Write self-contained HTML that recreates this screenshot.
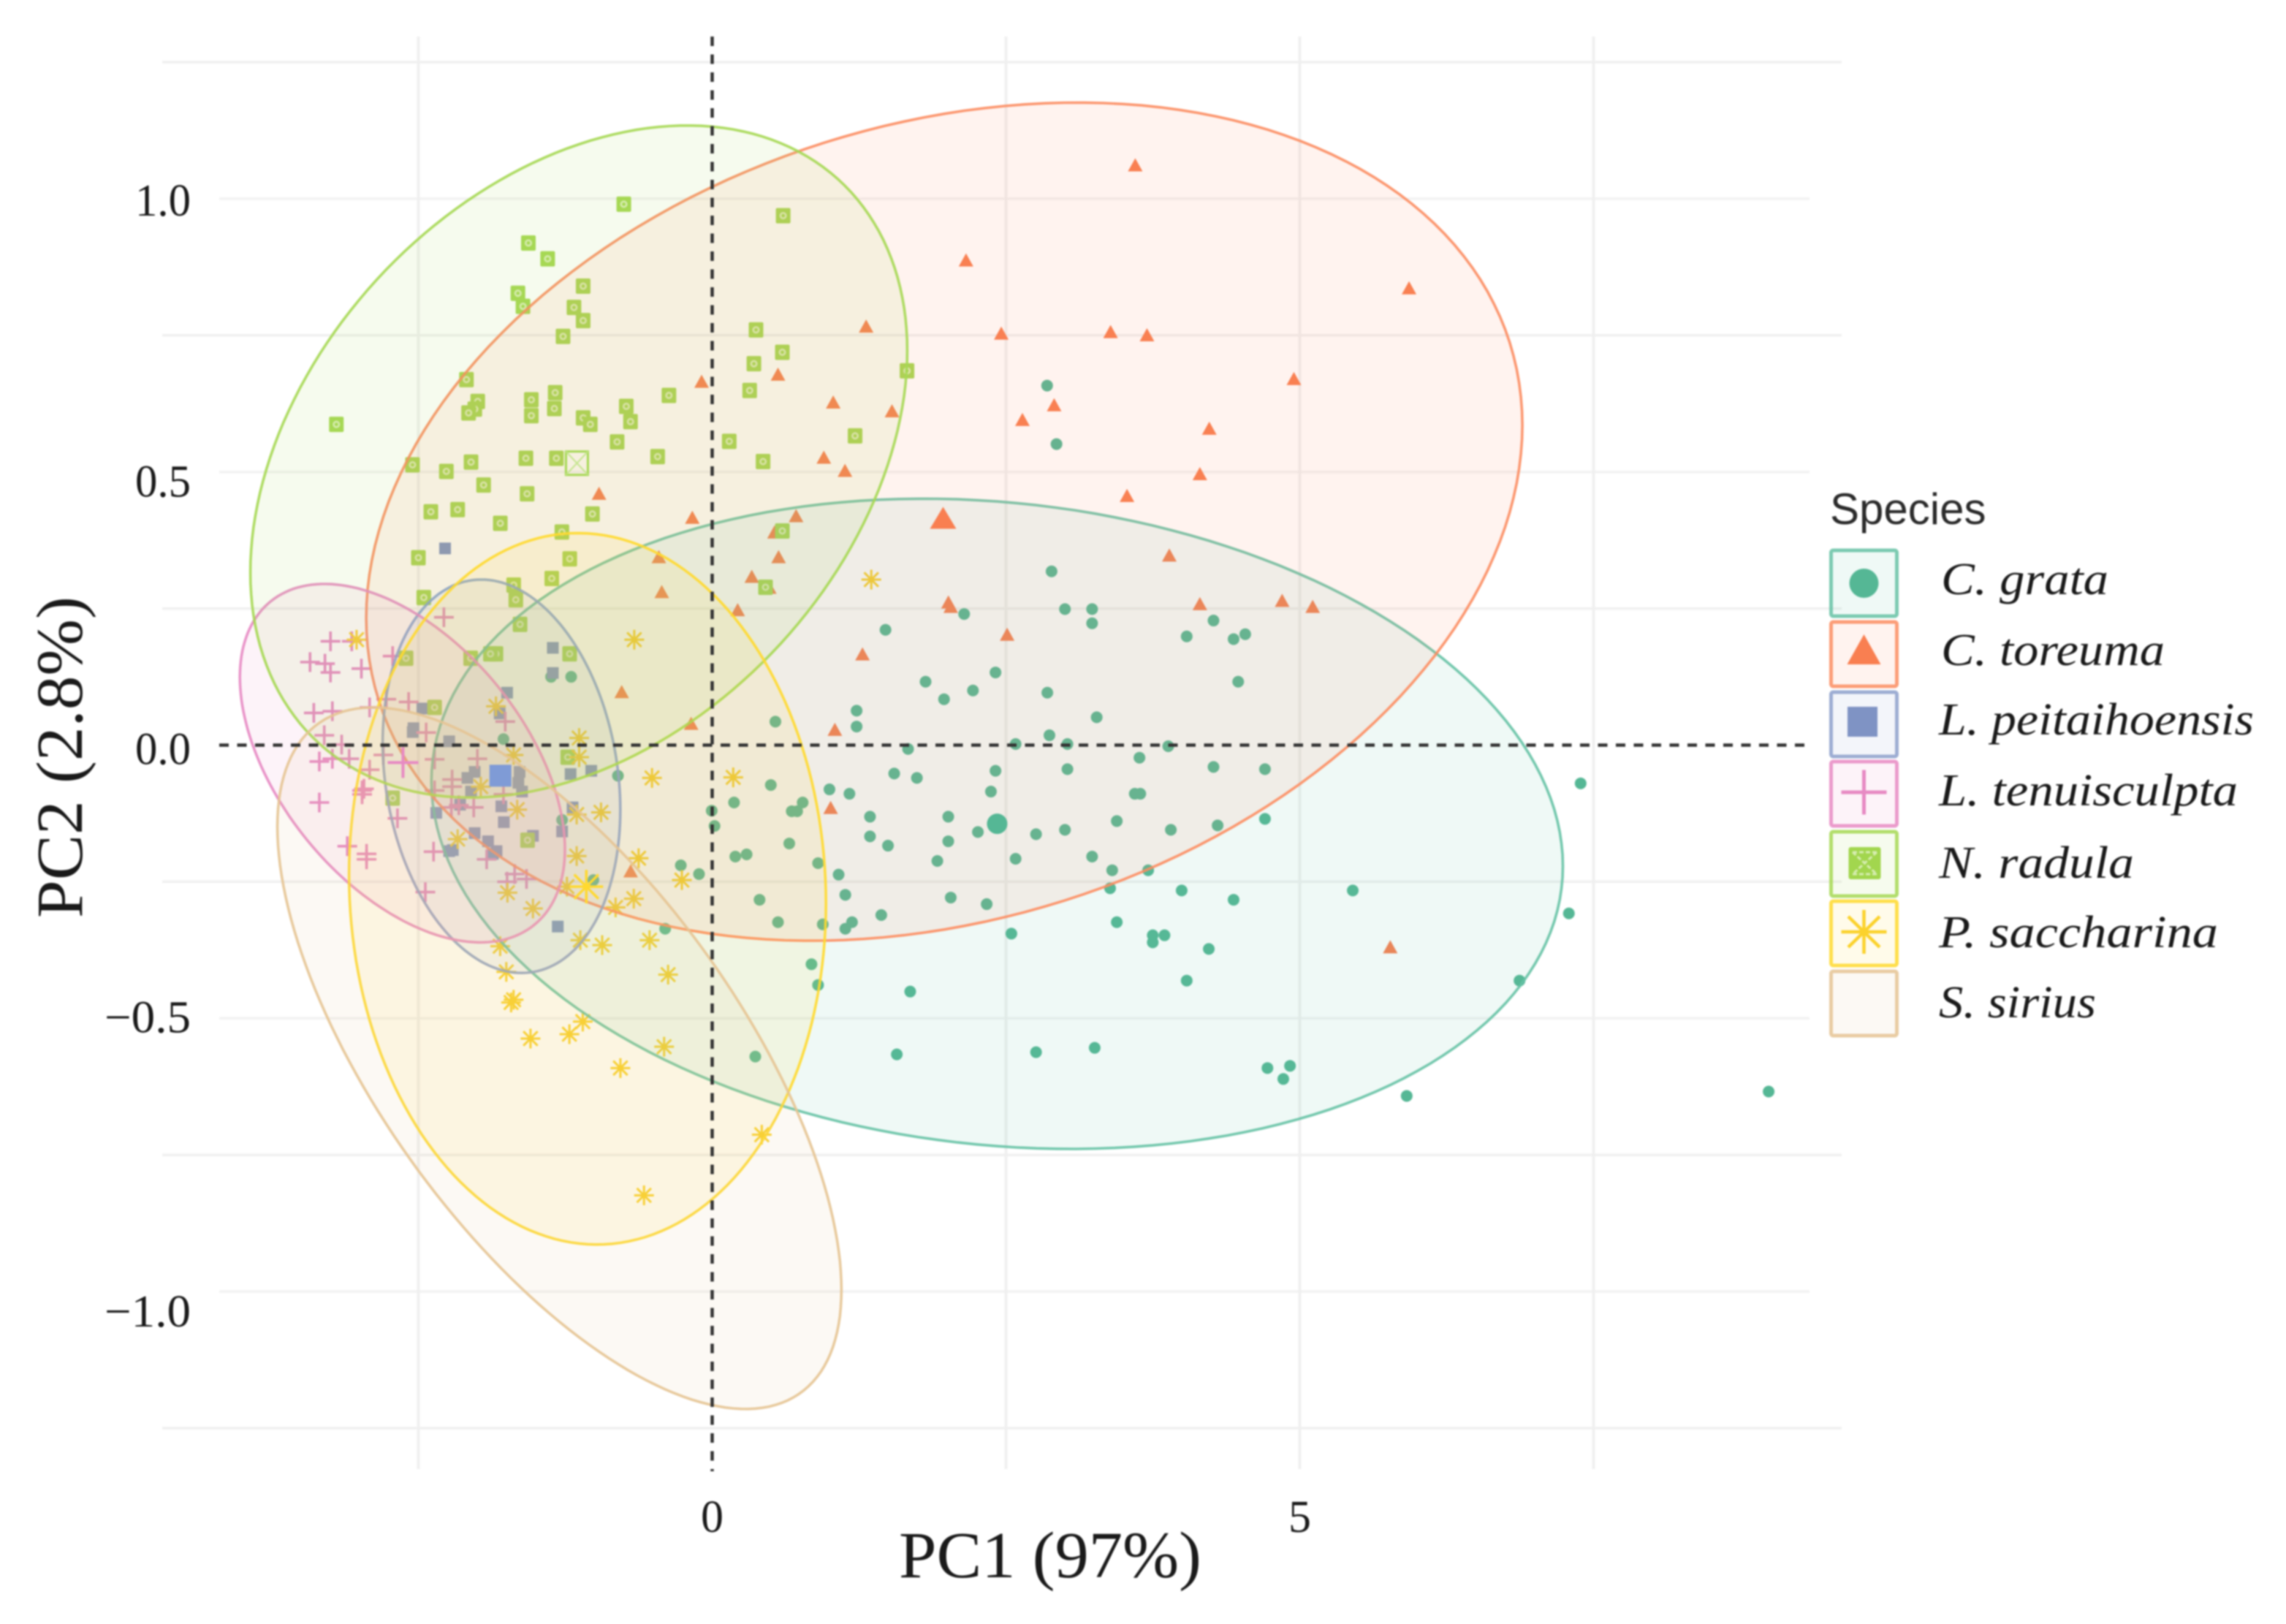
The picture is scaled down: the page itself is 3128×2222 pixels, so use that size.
<!DOCTYPE html>
<html>
<head>
<meta charset="utf-8">
<title>PCA biplot by species</title>
<style>
html,body{margin:0;padding:0;background:#fff;}
svg{display:block;filter:blur(1px);}
text{font-family:"Liberation Serif",serif;fill:#1a1a1a;}
</style>
</head>
<body>
<svg id="chart" xmlns="http://www.w3.org/2000/svg" width="3128" height="2222" viewBox="0 0 3128 2222">
  <rect x="0" y="0" width="3128" height="2222" fill="#ffffff"/>
  <g id="grid"></g>
  <g id="points"></g>
  <g id="ellipses"></g>
  <g id="centroids"></g>
  <g id="refs"></g>
  <g id="ticks"></g>
  <text x="1437" y="2158" font-size="90" text-anchor="middle" textLength="414" lengthAdjust="spacingAndGlyphs">PC1 (97%)</text>
  <text transform="translate(112,1036) rotate(-90)" font-size="90" text-anchor="middle" textLength="440" lengthAdjust="spacingAndGlyphs">PC2 (2.8%)</text>

  <g>
    <text x="2504" y="717" font-size="60" style="font-family:'Liberation Sans',sans-serif;fill:#2b2b2b">Species</text>

    <g>
      <rect x="2505.5" y="753" width="90" height="90" rx="3" fill="#66C2A5" fill-opacity="0.1" stroke="#66C2A5" stroke-opacity="0.85" stroke-width="5"/>
      <circle cx="2550.5" cy="798" r="20" fill="#55B795"/>
      <text x="2656" y="813" font-size="62" font-style="italic" textLength="229" lengthAdjust="spacingAndGlyphs">C. grata</text>
    </g>
    <g>
      <rect x="2505.5" y="851" width="90" height="88" rx="3" fill="#FC8D62" fill-opacity="0.1" stroke="#FC8D62" stroke-opacity="0.85" stroke-width="5"/>
      <path d="M2527.5 909 L2573.5 909 L2550.5 868 Z" fill="#F97F51"/>
      <text x="2656" y="910" font-size="62" font-style="italic" textLength="306" lengthAdjust="spacingAndGlyphs">C. toreuma</text>
    </g>
    <g>
      <rect x="2505.5" y="947" width="90" height="88" rx="3" fill="#8DA0CB" fill-opacity="0.1" stroke="#8DA0CB" stroke-opacity="0.85" stroke-width="5"/>
      <rect x="2528" y="967" width="41" height="41" fill="#7F93C4"/>
      <text x="2653" y="1005" font-size="62" font-style="italic" textLength="431" lengthAdjust="spacingAndGlyphs">L. peitaihoensis</text>
    </g>
    <g>
      <rect x="2505.5" y="1042" width="90" height="88" rx="3" fill="#E78AC3" fill-opacity="0.1" stroke="#E78AC3" stroke-opacity="0.85" stroke-width="5"/>
      <path d="M2519.5 1084 H2581.5 M2550.5 1053.5 V1114.5" stroke="#E78AC3" stroke-width="5" fill="none"/>
      <text x="2653" y="1102" font-size="62" font-style="italic" textLength="409" lengthAdjust="spacingAndGlyphs">L. tenuisculpta</text>
    </g>
    <g>
      <rect x="2505.5" y="1138" width="90" height="88" rx="3" fill="#A6D854" fill-opacity="0.1" stroke="#A6D854" stroke-opacity="0.85" stroke-width="5"/>
      <rect x="2529.5" y="1159" width="44" height="44" rx="3" fill="#A2D64E"/>
      <path d="M2535 1166 L2568 1196 M2568 1166 L2535 1196 M2535 1166 H2568 M2535 1196 H2568" stroke="#D6EDB0" stroke-width="3" stroke-dasharray="6 3" fill="none"/>
      <text x="2653" y="1201" font-size="62" font-style="italic" textLength="267" lengthAdjust="spacingAndGlyphs">N. radula</text>
    </g>
    <g>
      <rect x="2505.5" y="1233" width="90" height="88" rx="3" fill="#FFD92F" fill-opacity="0.1" stroke="#FFD92F" stroke-opacity="0.85" stroke-width="5"/>
      <path d="M2519.5 1275 H2581.5 M2550.5 1245 V1305 M2529 1254 L2572 1296 M2572 1254 L2529 1296" stroke="#FBD22C" stroke-width="4.5" fill="none"/>
      <text x="2653" y="1296" font-size="62" font-style="italic" textLength="382" lengthAdjust="spacingAndGlyphs">P. saccharina</text>
    </g>
    <g>
      <rect x="2505.5" y="1329" width="90" height="88" rx="3" fill="#E5C494" fill-opacity="0.1" stroke="#E5C494" stroke-opacity="0.85" stroke-width="5"/>
      <text x="2653" y="1392" font-size="62" font-style="italic" textLength="215" lengthAdjust="spacingAndGlyphs">S. sirius</text>
    </g>
  </g>
</svg>

<script>
// ---- axis data ----
const xTicks = [0, 5];
const xGridMinor = [-2.5, 2.5, 5, 7.5];
const yTicks = ['1.0', '0.5', '0.0', '\u22120.5', '\u22121.0'];
const yTickValues = [1, 0.5, 0, -0.5, -1];
const yGridOuter = [1.25, 0.75, 0.25, -0.25, -0.75, -1.25];
const yGridInner = [1, 0.5, -0.5, -1];

// ---- ellipse data (PC1/PC2 units) ----
const speciesKeys = ['c-grata', 'c-toreuma', 'l-peitaihoensis', 'l-tenuisculpta', 'n-radula', 'p-saccharina', 's-sirius'];
const ellipseCentrePC1 = [2.425, 1.975, -1.793, -2.636, -1.135, -1.061, -1.300];
const ellipseCentrePC2 = [-0.144, 0.409, -0.057, -0.033, 0.519, -0.263, -0.573];
const ellipseSpreadPC1 = [4.814, 4.919, 1.011, 1.383, 2.795, 2.029, 2.400];
const ellipseSpreadPC2 = [0.595, 0.767, 0.360, 0.328, 0.615, 0.651, 0.642];
const ellipseCorr = [-0.13, 0.23, -0.17, -0.48, 0.33, -0.04, -0.66];

// ---- point data: [PC1, PC2] ----
const grata = [[2.888,.318],[3.002,.249],[3.233,.249],[3.233,.223],[1.475,.211],[2.144,.240],[4.266,.228],[4.038,.199],[4.437,.194],[4.536,.203],[2.411,.133],[1.816,.116],[2.219,.100],[1.973,.084],[2.852,.096],[4.476,.116],[1.229,.063],[1.229,.034],[.538,.043],[3.272,.051],[2.870,.018],[2.582,.002],[3.023,.002],[3.881,-.002],[1.667,-.007],[3.636,-.023],[2.411,-.047],[3.023,-.044],[4.266,-.040],[4.704,-.044],[1.549,-.052],[1.742,-.060],[2.372,-.085],[.998,-.081],[1.168,-.089],[.499,-.073],[3.596,-.089],[3.643,-.089],[.186,-.105],[.770,-.105],[.677,-.121],[.723,-.121],[1.343,-.131],[2.009,-.131],[3.443,-.139],[3.002,-.155],[3.903,-.155],[4.301,-.147],[4.704,-.135],[2.261,-.159],[2.756,-.163],[1.343,-.167],[2.009,-.176],[1.496,-.184],[.656,-.180],[1.916,-.212],[2.582,-.208],[3.233,-.204],[.197,-.204],[.293,-.200],[.901,-.216],[1.076,-.237],[3.404,-.229],[3.710,-.229],[3.386,-.262],[3.995,-.266],[4.437,-.283],[5.451,-.266],[.403,-.283],[1.133,-.274],[2.030,-.279],[2.336,-.291],[1.439,-.311],[.560,-.324],[.941,-.328],[1.190,-.324],[1.133,-.336],[3.443,-.324],[2.546,-.345],[3.749,-.348],[3.849,-.348],[3.749,-.361],[4.226,-.373],[.845,-.401],[.901,-.439],[1.685,-.451],[4.038,-.431],[.367,-.570],[1.571,-.566],[2.756,-.562],[3.255,-.554],[4.725,-.591],[4.917,-.587],[4.860,-.611],[7.39,-.070],[7.29,-.308],[6.87,-.431],[5.91,-.642],[8.99,-.634],[2.85,.658],[2.93,.551],[-1.371,.125],[-1.200,.125],[-1.776,.011],[-.802,-.056],[-.004,-.120],[.02,-.148],[-1.277,-.137],[-1.011,-.247],[-.267,-.220],[-.112,-.236],[-.400,-.336]];
const toreuma = [[3.60,1.062],[2.16,.888],[5.93,.837],[2.46,.754],[3.39,.757],[3.70,.751],[1.31,.767],[-.09,.666],[.56,.679],[1.03,.628],[1.53,.612],[2.91,.623],[2.64,.596],[4.95,.671],[4.23,.580],[.95,.527],[1.13,.503],[4.15,.497],[3.53,.457],[-.963,.461],[-.169,.417],[.53,.390],[.714,.420],[.337,.309],[.486,.289],[-.429,.281],[-.454,.345],[.565,.345],[.217,.248],[3.89,.348],[4.15,.259],[4.85,.265],[5.11,.254],[2.01,.262],[2.03,.254],[2.51,.203],[1.279,.167],[-.770,.098],[1.044,.029],[-.179,.040],[1.008,-.114],[-.694,-.230],[5.77,-.369]];
const peitaihoensis = [[-2.548,.024],[-2.238,.007],[-2.021,-.049],[-2.083,-.060],[-2.052,-.085],[-1.639,-.049],[-1.649,-.069],[-1.618,-.085],[-1.205,-.053],[-1.029,-.047],[-1.188,-.114],[-1.794,-.112],[-1.773,-.141],[-2.145,-.109],[-2.348,-.124],[-2.021,-.161],[-1.907,-.176],[-1.835,-.194],[-1.866,-.199],[-2.207,-.192],[-2.238,-.194],[-1.277,-.158],[-1.525,-.166],[-1.314,-.332],[-2.273,.360],[-1.356,.178],[-1.356,.132],[-1.745,.096],[-1.808,.058],[-2.466,.067],[-2.542,.031]];
const tenuisculpta = [[-2.283,.234],[-3.248,.190],[-3.067,.190],[-3.422,.152],[-3.295,.149],[-3.248,.133],[-2.985,.140],[-2.719,.163],[-2.773,.084],[-2.583,.079],[-2.915,.069],[-3.390,.059],[-3.232,.062],[-3.301,.018],[-3.153,.001],[-2.434,.023],[-1.761,.043],[-3.343,-.030],[-3.232,-.025],[-3.089,-.025],[-2.915,-.045],[-2.798,-.018],[-2.362,-.026],[-1.998,-.025],[-2.213,-.063],[-2.213,-.076],[-1.776,-.090],[-2.979,-.083],[-2.979,-.090],[-2.963,-.080],[-3.343,-.105],[-2.362,-.083],[-2.678,-.134],[-2.219,-.114],[-2.029,-.114],[-2.156,-.110],[-3.105,-.185],[-2.941,-.209],[-2.941,-.199],[-2.371,-.195],[-1.919,-.209],[-1.745,-.250],[-1.681,-.236],[-1.580,-.245],[-2.441,-.269]];
const radula = [[-.752,.990],[.604,.969],[-1.564,.919],[-1.400,.890],[-1.098,.840],[-1.653,.827],[-1.610,.803],[-1.176,.801],[-1.098,.777],[-1.269,.748],[.373,.760],[.597,.719],[.355,.698],[.319,.649],[1.658,.685],[-2.091,.669],[-1.995,.629],[-2.020,.615],[-2.073,.608],[-1.539,.632],[-1.539,.603],[-1.336,.645],[-1.343,.616],[-1.098,.599],[-1.037,.587],[-.731,.620],[-.695,.592],[-.368,.640],[-3.198,.587],[.145,.556],[1.216,.566],[-.809,.555],[-2.550,.513],[-2.262,.501],[-2.052,.518],[-1.585,.525],[-1.326,.525],[-.464,.528],[.433,.519],[-1.945,.476],[-1.575,.460],[-2.394,.427],[-2.166,.431],[-1.803,.406],[-1.019,.423],[-1.279,.390],[.597,.392],[-2.500,.343],[-1.212,.341],[-1.365,.305],[-1.689,.293],[-1.671,.266],[-2.454,.270],[.454,.289],[-1.635,.221],[-2.605,.159],[-2.055,.159],[-1.840,.167],[-1.887,.167],[-1.213,.167],[-2.362,.069],[-1.229,-.022],[-2.719,-.097],[-1.571,-.174]];
const saccharina = [[-1.132,.013],[-1.690,-.018],[-1.132,-.022],[-.512,-.060],[-1.969,-.076],[-1.659,-.118],[-1.153,-.127],[-.946,-.123],[-2.166,-.172],[-1.153,-.203],[-.626,-.207],[-1.236,-.259],[-1.742,-.270],[-1.525,-.299],[-.667,-.281],[-.822,-.297],[-1.122,-.357],[-.936,-.366],[-.533,-.357],[-1.804,-.368],[-1.752,-.415],[-1.711,-.471],[-1.690,-.466],[-1.546,-.537],[-1.215,-.529],[-1.101,-.506],[-.781,-.591],[-.663,.193],[-3.026,.193],[-1.840,.071],[.179,-.059],[-.258,-.247],[-.375,-.420],[-.409,-.552],[.422,-.713],[-.580,-.824],[1.354,.303]];

// ---- centroid data: [PC1, PC2] ----
const centroidGrata = [2.425, -0.144];
const centroidToreuma = [1.965, 0.416];
const centroidPeitaihoensis = [-1.802, -0.056];
const centroidTenuisculpta = [-2.631, -0.032];
const centroidRadula = [-1.151, 0.516];
const centroidSaccharina = [-1.071, -0.259];

// ---- axis functions ----
const sx = v => 974.5 + 160.8 * v;
const sy = v => 1019.5 - 747.6 * v;

// ---- style ----
const strokeColours = ['#66C2A5', '#FC8D62', '#8DA0CB', '#E78AC3', '#A6D854', '#FFD92F', '#E5C494'];
const NS = 'http://www.w3.org/2000/svg';
function make(tag, attrs, parent) {
  const el = document.createElementNS(NS, tag);
  for (const k in attrs) el.setAttribute(k, attrs[k]);
  parent.appendChild(el);
  return el;
}
const grid = document.getElementById('grid');
const pointsG = document.getElementById('points');
const ellipsesG = document.getElementById('ellipses');
const centroidsG = document.getElementById('centroids');
const refs = document.getElementById('refs');
const ticks = document.getElementById('ticks');

// ---- grid ----
yGridOuter.forEach(v => {
  const el = make('line', {x1: 222, x2: 2520, y1: sy(v), y2: sy(v), stroke: '#F0F0F0', 'stroke-width': 3.5}, grid);
  
  
});
yGridInner.forEach(v => {
  const el = make('line', {x1: 300, x2: 2476, y1: sy(v), y2: sy(v), stroke: '#F2F2F2', 'stroke-width': 3.5}, grid);
  
  
});
xGridMinor.forEach(v => {
  const el = make('line', {x1: sx(v), x2: sx(v), y1: 50, y2: 2010, stroke: '#F0F0F0', 'stroke-width': 4}, grid);
  
  
});

// ---- marker shapes ----
function circleMark(p, r, colour, parent) {
  return make('circle', {cx: sx(p[0]), cy: sy(p[1]), r: r, fill: colour}, parent);
}
function triangleMark(p, w, h, colour, parent) {
  const x = sx(p[0]), y = sy(p[1]);
  return make('path', {d: `M${x - w / 2} ${y + h / 2} L${x + w / 2} ${y + h / 2} L${x} ${y - h / 2} Z`, fill: colour}, parent);
}
function squareMark(p, s, colour, parent) {
  return make('rect', {x: sx(p[0]) - s / 2, y: sy(p[1]) - s / 2, width: s, height: s, fill: colour}, parent);
}
function plusMark(p, r, sw, colour, parent) {
  const x = sx(p[0]), y = sy(p[1]);
  return make('path', {d: `M${x - r} ${y} H${x + r} M${x} ${y - r} V${y + r}`, stroke: colour, 'stroke-width': sw, fill: 'none'}, parent);
}
function starMark(p, r, sw, colour, parent) {
  const x = sx(p[0]), y = sy(p[1]), d = r * 0.72;
  return make('path', {d: `M${x - r} ${y} H${x + r} M${x} ${y - r} V${y + r} M${x - d} ${y - d} L${x + d} ${y + d} M${x + d} ${y - d} L${x - d} ${y + d}`, stroke: colour, 'stroke-width': sw, fill: 'none'}, parent);
}
function radulaMark(p, parent) {
  const x = sx(p[0]), y = sy(p[1]);
  const g = make('g', {}, parent);
  make('rect', {x: x - 10, y: y - 10.5, width: 20, height: 21, rx: 2, fill: '#A6D854'}, g);
  make('circle', {cx: x, cy: y, r: 5, fill: '#DCEFB8'}, g);
  make('circle', {cx: x, cy: y, r: 2.4, fill: '#A6D854'}, g);
  return g;
}

// ---- points ----
grata.forEach(p => {
  const el = circleMark(p, 8, '#55B795', pointsG);
  
  
});
toreuma.forEach(p => {
  const el = triangleMark(p, 20, 18, '#F97F51', pointsG);
  
  
});
peitaihoensis.forEach(p => {
  const el = squareMark(p, 16, '#7F93C4', pointsG);
  
  
});
tenuisculpta.forEach(p => {
  const el = plusMark(p, 13.5, 3.6, '#E78AC3', pointsG);
  
  
});
radula.forEach(p => {
  const el = radulaMark(p, pointsG);
  
  
});
saccharina.forEach(p => {
  const el = starMark(p, 13.5, 3, '#FBD22C', pointsG);
  
  
});

// ---- ellipses ----
speciesKeys.forEach((key, i) => {
  const k = ellipseCorr[i], q = Math.sqrt(1 - k * k);
  let d = '';
  for (let s = 0; s < 180; s++) {
    const t = s / 180 * 2 * Math.PI;
    const a = ellipseCentrePC1[i] + ellipseSpreadPC1[i] * Math.cos(t);
    const b = ellipseCentrePC2[i] + ellipseSpreadPC2[i] * (k * Math.cos(t) + q * Math.sin(t));
    d += (s ? 'L' : 'M') + sx(a).toFixed(1) + ' ' + sy(b).toFixed(1);
  }
  const el = make('path', {d: d + 'Z', fill: strokeColours[i], 'fill-opacity': 0.1, stroke: strokeColours[i], 'stroke-opacity': 0.9, 'stroke-width': 3.6}, ellipsesG);
  
  
});

// ---- centroids ----
const cg = circleMark(centroidGrata, 14, '#55B795', centroidsG);


const ct = triangleMark(centroidToreuma, 36, 30, '#F97F51', centroidsG);


const cp = squareMark(centroidPeitaihoensis, 30, '#7F9BD6', centroidsG);


const cl = plusMark(centroidTenuisculpta, 21, 4, '#E78AC3', centroidsG);


const cr = make('g', {}, centroidsG);


{
  const x = sx(centroidRadula[0]), y = sy(centroidRadula[1]);
  make('rect', {x: x - 15, y: y - 16, width: 30, height: 32, fill: 'none', stroke: '#A6D854', 'stroke-width': 3}, cr);
  make('path', {d: `M${x - 15} ${y - 16} L${x + 15} ${y + 16} M${x + 15} ${y - 16} L${x - 15} ${y + 16}`, stroke: '#C5E58E', 'stroke-width': 2, fill: 'none'}, cr);
}
const cs = starMark(centroidSaccharina, 23, 3.5, '#FFD92F', centroidsG);


const csDot = circleMark(centroidSaccharina, 5, '#FFD92F', centroidsG);



// ---- zero reference lines ----
const refH = make('line', {x1: 300, x2: 2476, y1: sy(0), y2: sy(0), stroke: '#333333', 'stroke-width': 4.5, 'stroke-dasharray': '13 11.5'}, refs);


const refV = make('line', {x1: sx(0), x2: sx(0), y1: 50, y2: 2013, stroke: '#333333', 'stroke-width': 4.5, 'stroke-dasharray': '13 11.5'}, refs);



// ---- tick labels ----
const yLabelNudge = [23, 34, 26, 19, 48];
yTicks.forEach((label, i) => {
  const el = make('text', {x: 261, y: sy(yTickValues[i]) + yLabelNudge[i], 'font-size': 62, 'text-anchor': 'end', textLength: label.length > 3 ? 118 : 76, lengthAdjust: 'spacingAndGlyphs'}, ticks);
  
  
  el.textContent = label;
});
xTicks.forEach(v => {
  const el = make('text', {x: sx(v), y: 2096, 'font-size': 62, 'text-anchor': 'middle'}, ticks);
  
  
  el.textContent = String(v);
});
</script>
</body>
</html>
